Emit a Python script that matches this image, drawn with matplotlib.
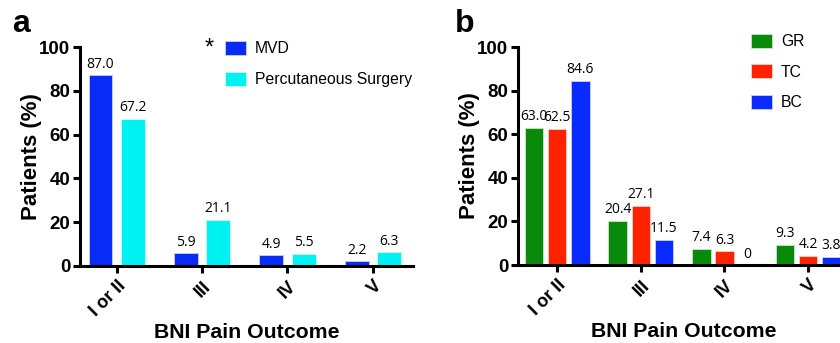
import numpy as np
import matplotlib
matplotlib.use('Agg')
import matplotlib.pyplot as plt

# data
categories = ['I or II', 'III', 'IV', 'V']
mvd = [87.0, 5.9, 4.9, 2.2]
percutaneous = [67.2, 21.1, 5.5, 6.3]
gr = [63.0, 20.4, 7.4, 9.3]
tc = [62.5, 27.1, 6.3, 4.2]
bc = [84.6, 11.5, 0, 3.8]

W, H = 840, 343
plt.rcParams['font.family'] = ['Liberation Sans', 'DejaVu Sans']
fig = plt.figure(figsize=(W / 100, H / 100), dpi=100)


def px_axes(x0, x1, ytop, ybot):
    return fig.add_axes([x0 / W, 1 - ybot / H, (x1 - x0) / W, (ybot - ytop) / H])


def style_axes(ax, width_px):
    for s in ['top', 'right']:
        ax.spines[s].set_visible(False)
    for s in ['left', 'bottom']:
        ax.spines[s].set_linewidth(2.2)
    ax.set_ylim(0, 100)
    ax.set_yticks([0, 20, 40, 60, 80, 100])
    ax.tick_params(axis='both', width=2.2, length=5)
    ax.tick_params(axis='y', labelsize=13.5, pad=2)
    for lab in ax.get_yticklabels():
        lab.set_fontweight('bold')
    ax.set_xticks(range(len(categories)))
    ax.set_xticklabels(categories, rotation=45, ha='right', rotation_mode='anchor',
                       fontweight='bold', fontsize=13)
    ax.set_ylabel('Patients (%)', fontsize=16, fontweight='bold')
    ax.yaxis.set_label_coords(-38 / width_px, 0.5)
    ax.set_xlabel('BNI Pain Outcome', fontsize=15.3, fontweight='bold', labelpad=2)


def value_labels(ax, xs, vals):
    for x, v in zip(xs, vals):
        txt = '0' if v == 0 else f'{v:.1f}'
        ax.annotate(txt, (x, v), xytext=(0, 2.5), textcoords='offset points',
                    ha='center', va='bottom', fontsize=10, family='Open Sans')


x = np.arange(len(categories))

# panel a
axa = px_axes(80, 413, 47, 266)
bw = 0.28
off = 0.19
axa.bar(x - off, mvd, bw, color='#0A2AF5', edgecolor='#c8d0ff', linewidth=0.6, label='MVD')
axa.bar(x + off, percutaneous, bw, color='#00F2F2', edgecolor='#d0ffff', linewidth=0.6,
        label='Percutaneous Surgery')
value_labels(axa, x - off, mvd)
value_labels(axa, x + off, percutaneous)
axa.set_xlim(-0.43, 3.47)
style_axes(axa, 333)
axa.legend(loc='upper left', bbox_to_anchor=(225 / W, 1 - 41 / H), bbox_transform=fig.transFigure,
           frameon=False, fontsize=11.3, handlelength=1.35, handleheight=1.0,
           handletextpad=0.55, labelspacing=1.0, borderpad=0, borderaxespad=0)
fig.text(209 / W, 1 - 49 / H, '*', fontsize=17, ha='center', va='center')

# panel b
axb = px_axes(518, 850, 47, 265)
bw2 = 0.222
pitch = 0.276
axb.bar(x - pitch, gr, bw2, color='#0A8A0A', edgecolor='#c8e8c8', linewidth=0.6, label='GR')
axb.bar(x, tc, bw2, color='#FF2200', edgecolor='#ffd0c8', linewidth=0.6, label='TC')
axb.bar(x + pitch, bc, bw2, color='#0A2BFF', edgecolor='#c8d0ff', linewidth=0.6, label='BC')
value_labels(axb, x - pitch, gr)
value_labels(axb, x, tc)
value_labels(axb, x + pitch, bc)
axb.set_xlim(-0.468, 3.5)
style_axes(axb, 332)
axb.legend(loc='upper left', bbox_to_anchor=(751 / W, 1 - 34 / H), bbox_transform=fig.transFigure,
           frameon=False, fontsize=11.3, handlelength=1.35, handleheight=1.0,
           handletextpad=0.55, labelspacing=0.95, borderpad=0, borderaxespad=0)

fig.text(12 / W, 1 - 24 / H, 'a', fontsize=23, fontweight='bold', va='center')
fig.text(455 / W, 1 - 24 / H, 'b', fontsize=23, fontweight='bold', va='center')

fig.savefig('out.png', dpi=100)
